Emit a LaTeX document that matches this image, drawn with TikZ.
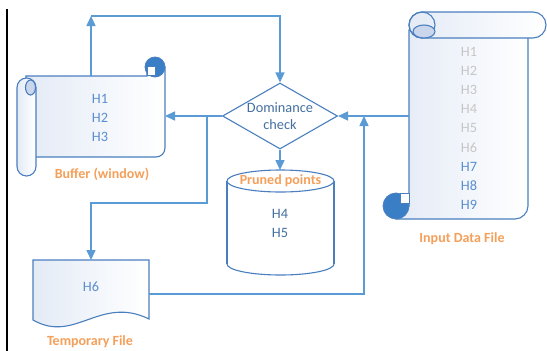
\documentclass[tikz,border=0pt]{standalone}
\usepackage{fontspec}
\setmainfont{Carlito}
\usetikzlibrary{arrows.meta,shapes.geometric}
\definecolor{ln}{HTML}{5B9BD5}
\definecolor{ol}{HTML}{4A7FBF}
\definecolor{dk}{HTML}{3A7FC6}
\definecolor{tx}{HTML}{44709F}
\definecolor{txb}{HTML}{5A8ECF}
\definecolor{gr}{HTML}{C6C6C6}
\definecolor{org}{HTML}{F5A05A}
\definecolor{lb}{HTML}{E4EBF6}
\definecolor{curl}{HTML}{C9D6EC}
\begin{document}
\begin{tikzpicture}[x=1pt,y=-1pt,
  conn/.style={draw=ln, line width=1.5pt, -{Triangle[length=10pt,width=9pt]}},
  outl/.style={draw=ol, line width=1.1pt},
  lbl/.style={text=org, font=\fontsize{14}{16}\selectfont\bfseries},
  htx/.style={text=tx, font=\fontsize{14.3}{17}\selectfont, align=center},
  grad/.style={left color=lb, right color=white}]
\useasboundingbox (0,0) rectangle (547,351);
\fill[white] (0,0) rectangle (547,351);
% black rule
\draw[line width=2pt] (7,9) -- (7,351);

% ---- Buffer (horizontal scroll)
\draw[outl,grad] (26,76) -- (147,76) -- (147,67) -- (165,67) -- (165,148)
  .. controls (165,153) and (161,157) .. (156,157) -- (26,157) -- cycle;
\filldraw[fill=dk, draw=ol, line width=0.8pt] (155,67) circle (10pt);
\filldraw[fill=white, draw=ol, line width=0.8pt] (147,66) rectangle (155,75);
\draw[outl,grad,rounded corners=9.5pt] (17,78) rectangle (36,176);
\draw[outl,fill=curl] (30.5,87.5) ellipse (5pt and 7.5pt);
\node[htx, text=txb] (bh1) at (100,99) {H1};
\node[htx, text=txb] (bh2) at (100,118) {H2};
\node[htx, text=txb] (bh3) at (100,137) {H3};
\node[lbl] (bufl) at (102,174) {Buffer (window)};

% ---- Input data file (vertical scroll)
\draw[outl,grad] (409,30) -- (528,30) -- (528,206)
  .. controls (528,213) and (522,219) .. (515,219) -- (396,219) -- (396,206) -- (409,206) -- cycle;
\filldraw[fill=dk, draw=ol, line width=0.8pt] (396,206) circle (13pt);
\filldraw[fill=white, draw=ol, line width=0.8pt] (400,193) rectangle (409,203);
\draw[outl,grad,rounded corners=13pt] (409,12) rectangle (546,38);
\draw[outl] (422,25) circle (13pt);
\draw[outl,fill=curl] (424,31.5) ellipse (11pt and 6.5pt);
\foreach \i in {1,...,6} {
  \node[htx, text=gr] (ih\i) at (469,{52+19.1*(\i-1)}) {H\i};
}
\foreach \i in {7,8,9} {
  \node[htx, text=txb] (ih\i) at (469,{52+19.1*(\i-1)}) {H\i};
}
\node[lbl] (inpl) at (462,239) {Input Data File};

% ---- Dominance check
\node[draw=ol, line width=1.1pt, diamond, inner sep=0pt, minimum width=115pt,
  minimum height=66pt, fill=white] (dom) at (280,116) {};
\node[htx] (domt) at (dom.center) {Dominance\\check};

% ---- Pruned points (cylinder)
\fill[white] (227,181) rectangle (334,264);
\draw[outl] (227,181) -- (227,264);
\draw[outl] (334,181) -- (334,264);
\begin{scope}
  \clip (220,264) rectangle (340,282);
  \draw[outl] (280.5,264) ellipse (53.5pt and 11pt);
\end{scope}
\draw[outl,fill=white] (280.5,181) ellipse (53.5pt and 11pt);
\node[lbl] (cyll) at (280.5,181) {Pruned points};
\node[htx] (ch4) at (280,214) {H4};
\node[htx] (ch5) at (280,233) {H5};

% ---- Temporary file (document)
\draw[outl,grad] (33,260) -- (149,260) -- (149,319)
  .. controls (100,295) and (75,344) .. (33,320) -- cycle;
\node[htx, text=txb] (th6) at (91,287) {H6};
\node[lbl] (tmpl) at (90,342) {Temporary File};

% ---- connection points
\coordinate (bufN) at (91,76);
\coordinate (corner) at (91,16);
\coordinate (bufE) at (165,116);
\coordinate (junc) at (207,116);
\coordinate (bend) at (207,203);
\coordinate (tmpN) at (91,260);
\coordinate (cylN) at (280,170);
\coordinate (inpW) at (409,116);
\coordinate (tmpE) at (149,294);
\coordinate (merge) at (364,116);

% ---- connectors
\draw[conn] (bufN) -- (corner);
\draw[conn] (corner) -| (dom.north);
\draw[conn] (dom.west) -- (bufE);
\draw[conn] (junc) -- (bend) -| (tmpN);
\draw[conn] (dom.south) -- (cylN);
\draw[conn] (inpW) -- (dom.east);
\draw[conn] (tmpE) -| (merge);
\end{tikzpicture}
\end{document}
